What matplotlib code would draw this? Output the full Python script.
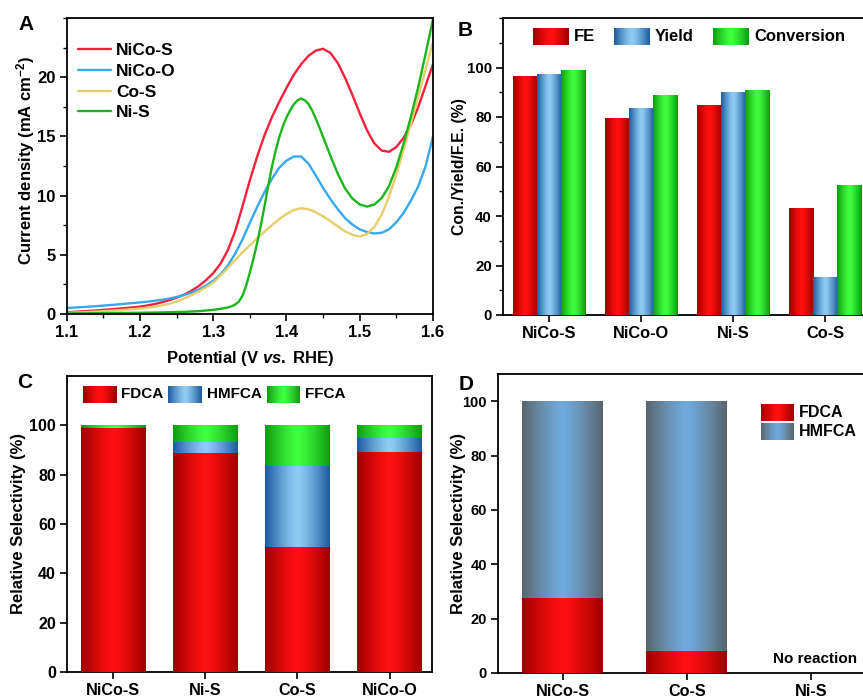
import numpy as np
import matplotlib
matplotlib.use('Agg')
import matplotlib.pyplot as plt
from matplotlib.colors import LinearSegmentedColormap
from matplotlib.ticker import MultipleLocator

plt.rcParams['font.family'] = ['Liberation Sans', 'DejaVu Sans']
plt.rcParams['font.weight'] = 'bold'
plt.rcParams['axes.labelweight'] = 'bold'
plt.rcParams['mathtext.fontset'] = 'custom'
plt.rcParams['mathtext.rm'] = 'Liberation Sans:bold'
plt.rcParams['mathtext.it'] = 'Liberation Sans:italic:bold'
plt.rcParams['mathtext.bf'] = 'Liberation Sans:bold'

# ---- A: LSV curves ----
potential = [1.10, 1.11, 1.12, 1.13, 1.14, 1.15, 1.16, 1.17, 1.18, 1.19,
             1.20, 1.21, 1.22, 1.23, 1.24, 1.25, 1.26, 1.27, 1.28, 1.29,
             1.30, 1.31, 1.32, 1.33, 1.34, 1.35, 1.36, 1.37, 1.38, 1.39,
             1.40, 1.41, 1.42, 1.43, 1.44, 1.45, 1.46, 1.47, 1.48, 1.49,
             1.50, 1.51, 1.52, 1.53, 1.54, 1.55, 1.56, 1.57, 1.58, 1.59, 1.60]
j_nicos = [0.15, 0.18, 0.22, 0.26, 0.30, 0.35, 0.40, 0.45, 0.50, 0.56,
           0.62, 0.72, 0.84, 0.99, 1.17, 1.38, 1.63, 1.95, 2.35, 2.85,
           3.45, 4.25, 5.40, 7.00, 9.10, 11.30, 13.30, 15.10, 16.60, 17.90,
           19.10, 20.20, 21.10, 21.80, 22.25, 22.40, 22.05, 21.20, 19.95, 18.50,
           16.95, 15.50, 14.40, 13.80, 13.70, 14.10, 14.90, 16.00, 17.50, 19.30, 21.10]
j_nicoo = [0.50, 0.54, 0.58, 0.62, 0.66, 0.71, 0.76, 0.81, 0.87, 0.92,
           0.98, 1.04, 1.12, 1.20, 1.30, 1.44, 1.60, 1.80, 2.05, 2.40,
           2.80, 3.35, 4.10, 5.10, 6.30, 7.70, 9.05, 10.30, 11.40, 12.35,
           12.95, 13.30, 13.30, 12.70, 11.70, 10.65, 9.70, 8.85, 8.10, 7.55,
           7.15, 6.92, 6.80, 6.86, 7.15, 7.75, 8.55, 9.60, 10.80, 12.50, 15.00]
j_cos = [0.10, 0.12, 0.14, 0.17, 0.20, 0.24, 0.28, 0.32, 0.36, 0.41,
         0.46, 0.53, 0.61, 0.72, 0.86, 1.05, 1.30, 1.58, 1.90, 2.25,
         2.65, 3.25, 3.90, 4.55, 5.20, 5.80, 6.40, 6.95, 7.50, 8.00,
         8.45, 8.78, 8.93, 8.85, 8.60, 8.25, 7.85, 7.40, 6.98, 6.68,
         6.55, 6.75, 7.35, 8.40, 9.90, 11.80, 13.90, 16.10, 18.40, 20.70, 23.00]
potential_nis = [1.10, 1.14, 1.18, 1.22, 1.26, 1.28, 1.30, 1.31, 1.32, 1.325,
                 1.33, 1.335, 1.34, 1.345, 1.35, 1.355, 1.36, 1.365, 1.37, 1.375,
                 1.38, 1.385, 1.39, 1.395, 1.40, 1.405, 1.41, 1.415, 1.42, 1.425,
                 1.43, 1.435, 1.44, 1.445, 1.45, 1.46, 1.47, 1.48, 1.49, 1.50,
                 1.51, 1.52, 1.53, 1.54, 1.55, 1.56, 1.57, 1.58, 1.59, 1.60]
j_nis = [0.05, 0.07, 0.09, 0.12, 0.18, 0.24, 0.35, 0.44, 0.55, 0.65,
         0.80, 1.05, 1.55, 2.40, 3.50, 4.70, 6.00, 7.50, 9.10, 10.80,
         12.40, 13.75, 14.90, 15.85, 16.60, 17.20, 17.70, 18.05, 18.20, 18.05,
         17.75, 17.20, 16.50, 15.75, 14.95, 13.35, 11.85, 10.60, 9.75, 9.25,
         9.07, 9.25, 9.80, 10.80, 12.40, 14.40, 16.70, 19.20, 22.00, 24.90]

# ---- B: FE / yield / conversion ----
b_cats = ['NiCo-S', 'NiCo-O', 'Ni-S', 'Co-S']
b_fe = [96.4, 79.7, 84.7, 43.1]
b_yield = [97.2, 83.7, 89.9, 15.5]
b_conv = [99.1, 89.0, 91.0, 52.7]

# ---- C: product selectivity ----
c_cats = ['NiCo-S', 'Ni-S', 'Co-S', 'NiCo-O']
c_fdca = [99.0, 88.8, 50.7, 89.2]
c_hmfca = [0.3, 4.3, 32.7, 5.5]
c_ffca = [0.7, 6.9, 16.6, 5.3]

# ---- D: selectivity with HMF ----
d_cats = ['NiCo-S', 'Co-S', 'Ni-S']
d_fdca = [27.5, 8.1, 0]
d_hmfca = [72.5, 91.9, 0]

W, H = 863, 698
fig = plt.figure(figsize=(W / 100, H / 100), dpi=100)


def px_axes(left, top, right, bottom):
    return fig.add_axes([left / W, 1 - bottom / H, (right - left) / W, (bottom - top) / H])


def shade(dark, bright):
    return LinearSegmentedColormap.from_list('', [bright, dark])


RED = shade('#9c0000', '#ff1010')
BLUE = shade('#1c5a9c', '#90ccf2')
GREEN = shade('#0f9a0f', '#40ff40')
GRAYBLUE = shade('#5a646c', '#70aadc')
GRAD = np.abs(np.linspace(-1, 1, 128))[None, :] ** 1.3


def grad_bars(ax, x, heights, width, cmap, bottom=0):
    bars = ax.bar(x, heights, width, bottom=bottom, color=cmap(0.4), linewidth=0, zorder=2)
    for b in bars:
        if b.get_height() <= 0:
            continue
        x0, y0 = b.get_x(), b.get_y()
        im = ax.imshow(GRAD, cmap=cmap, vmin=0, vmax=1, aspect='auto', zorder=3,
                       extent=(x0, x0 + b.get_width(), y0, y0 + b.get_height()),
                       interpolation='bilinear')
        im.set_clip_path(b)
    return bars


def legend_box(left, top, right, bottom, cmap, label, size):
    bx = px_axes(left, top, right, bottom)
    bx.imshow(GRAD, cmap=cmap, vmin=0, vmax=1, aspect='auto', interpolation='bilinear')
    bx.axis('off')
    fig.text((right + 5) / W, 1 - (top + bottom) / 2 / H, label, fontsize=size,
             fontweight='bold', va='center', ha='left')


def style(ax, labelsize):
    for s in ax.spines.values():
        s.set_linewidth(1.3)
    ax.tick_params(direction='out', width=1.2, length=5, labelsize=labelsize, pad=3)
    ax.tick_params(which='minor', direction='out', width=1.0, length=3)


# A
axA = px_axes(66.7, 18, 433, 314)
line_kw = dict(lw=1.7, solid_joinstyle='round', solid_capstyle='round')
axA.plot(potential, j_nicos, color='#f5203c', label='NiCo-S', **line_kw)
axA.plot(potential, j_nicoo, color='#38a8ee', label='NiCo-O', **line_kw)
axA.plot(potential, j_cos, color='#e6cf6a', label='Co-S', **line_kw)
axA.plot(potential_nis, j_nis, color='#1cb41c', label='Ni-S', **line_kw)
axA.set_xlim(1.1, 1.6)
axA.set_ylim(0, 25)
axA.xaxis.set_major_locator(MultipleLocator(0.1))
axA.xaxis.set_minor_locator(MultipleLocator(0.05))
axA.set_yticks([0, 5, 10, 15, 20])
axA.yaxis.set_minor_locator(MultipleLocator(2.5))
style(axA, 12)
axA.set_xlabel('Potential (V $\\mathit{vs.}$ RHE)', fontsize=12)
axA.set_ylabel('Current density (mA cm$^{-2}$)', fontsize=12)
axA.xaxis.set_label_coords(0.5, -0.118)
axA.yaxis.set_label_coords(-0.081, 0.52)
axA.legend(loc='upper left', bbox_to_anchor=(0.03, 0.915), frameon=False, fontsize=12.5,
           handlelength=1.9, handletextpad=0.3, labelspacing=0.32, borderpad=0,
           borderaxespad=0)
fig.text(26 / W, 1 - 24 / H, 'A', fontsize=15, fontweight='bold', ha='center', va='center')

# B
axB = px_axes(503, 18, 871, 315)
xb = np.arange(len(b_cats))
bw = 0.264
grad_bars(axB, xb - bw, b_fe, bw, RED)
grad_bars(axB, xb, b_yield, bw, BLUE)
grad_bars(axB, xb + bw, b_conv, bw, GREEN)
axB.set_xlim(-0.5, 3.5)
axB.set_ylim(0, 120)
axB.set_xticks(xb)
axB.set_xticklabels(b_cats)
axB.set_yticks([0, 20, 40, 60, 80, 100])
axB.yaxis.set_minor_locator(MultipleLocator(10))
style(axB, 10.8)
axB.tick_params(axis='x', labelsize=11.8)
axB.set_ylabel('Con./Yield/F.E. (%)', fontsize=11.3)
axB.yaxis.set_label_coords(-0.098, 0.5)
legend_box(533, 28, 569, 45, RED, 'FE', 12)
legend_box(614, 28, 650, 45, BLUE, 'Yield', 12)
legend_box(713, 28, 749, 45, GREEN, 'Conversion', 12)
fig.text(465 / W, 1 - 30 / H, 'B', fontsize=15, fontweight='bold', ha='center', va='center')

# C
axC = px_axes(67, 376, 432, 672)
xc = np.arange(len(c_cats))
cw = 0.70
c_base2 = [a + b for a, b in zip(c_fdca, c_hmfca)]
grad_bars(axC, xc, c_fdca, cw, RED)
grad_bars(axC, xc, c_hmfca, cw, BLUE, bottom=c_fdca)
grad_bars(axC, xc, c_ffca, cw, GREEN, bottom=c_base2)
axC.set_xlim(-0.5, 3.46)
axC.set_ylim(0, 120)
axC.set_xticks(xc)
axC.set_xticklabels(c_cats)
axC.set_yticks([0, 20, 40, 60, 80, 100])
style(axC, 11.5)
axC.tick_params(axis='x', labelsize=11.7)
axC.set_ylabel('Relative Selectivity (%)', fontsize=12)
axC.yaxis.set_label_coords(-0.112, 0.5)
legend_box(83, 386, 116, 403, RED, 'FDCA', 11)
legend_box(168, 386, 202, 403, BLUE, 'HMFCA', 11)
legend_box(267, 386, 300, 403, GREEN, 'FFCA', 11)
fig.text(25 / W, 1 - 382 / H, 'C', fontsize=15, fontweight='bold', ha='center', va='center')

# D
axD = px_axes(498, 374, 875.5, 673)
xd = np.arange(len(d_cats))
dw = 0.65
grad_bars(axD, xd, d_fdca, dw, RED)
grad_bars(axD, xd, d_hmfca, dw, GRAYBLUE, bottom=d_fdca)
axD.set_xlim(-0.52, 2.52)
axD.set_ylim(0, 110)
axD.set_xticks(xd)
axD.set_xticklabels(d_cats)
axD.set_yticks([0, 20, 40, 60, 80, 100])
style(axD, 10.5)
axD.tick_params(axis='x', labelsize=11.7)
axD.set_ylabel('Relative Selectivity (%)', fontsize=12)
axD.yaxis.set_label_coords(-0.085, 0.5)
axD.text(2.03, 5.2, 'No reaction', fontsize=11, fontweight='bold', ha='center', va='center')
legend_box(761, 404, 794, 421, RED, 'FDCA', 11.5)
legend_box(761, 423, 794, 440, GRAYBLUE, 'HMFCA', 11.5)
fig.text(466 / W, 1 - 384 / H, 'D', fontsize=15, fontweight='bold', ha='center', va='center')

fig.savefig('out.png', dpi=100)
